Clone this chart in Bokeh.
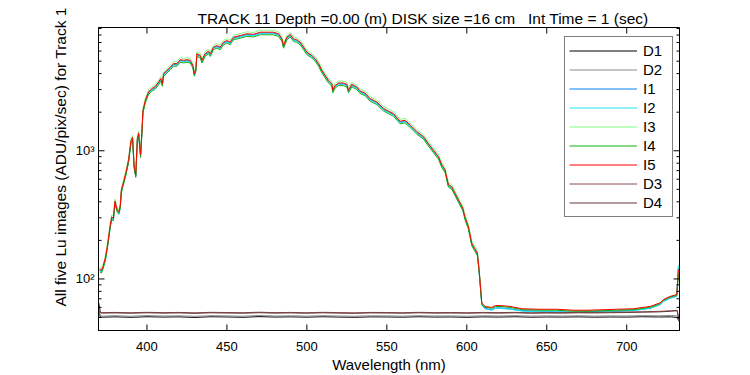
from math import pi
from bokeh.plotting import figure
from bokeh.models import Range1d, FixedTicker, Title
from bokeh.embed import file_html
from bokeh.resources import INLINE

# ---------------- data ----------------
title_text = "TRACK 11 Depth =0.00 (m) DISK size =16 cm\u00a0\u00a0\u00a0Int Time = 1 (sec)"
x_label = "Wavelength (nm)"
y_label = "All five Lu images (ADU/pix/sec) for Track 1"
x_lo, x_hi = 369.7, 733
y_lo, y_hi = 39.6, 9160
x_ticks = [400, 450, 500, 550, 600, 650, 700]
y_ticks = [100, 1000]
y_tick_labels = {100: "10\u00b2", 1000: "10\u00b3"}
y_minor = [50, 60, 70, 80, 90, 200, 300, 400, 500, 600, 700, 800, 900,
           2000, 3000, 4000, 5000, 6000, 7000, 8000, 9000]

wl = [370.5, 371.5, 372.5, 374, 375.5, 377, 378, 379, 380, 381.3, 382.5, 383.3, 384,
      385.4, 387, 388.5, 390, 391, 392, 393, 394, 394.8, 396, 396.9, 397.5, 399, 401,
      403, 405, 407.3, 408.7, 409.6, 410.4, 412.5, 414.6, 416.6, 418.7, 420.8, 422.9,
      425, 427, 428.7, 429.6, 430.6, 431.2, 433.3, 434.4, 436.4, 438.5, 439.6, 441.6,
      443.7, 445.8, 447.9, 450, 452, 454.1, 458.3, 462.5, 466.6, 470.8, 475, 479,
      482.3, 484.4, 485.4, 487.5, 489.6, 491.6, 493.7, 495.8, 497.9, 500, 503.1,
      505.2, 507.3, 509.4, 511.4, 513.5, 515.6, 516.2, 517.7, 519.8, 522.9, 525, 526,
      528.1, 531.2, 533.3, 536.4, 539.6, 543.8, 547.9, 551, 554.2, 558.3, 561.4,
      564.6, 568.8, 572.9, 576, 579.2, 582.3, 584.4, 586.4, 588.5, 590.6, 592.7,
      594.8, 597.5, 599, 601, 603.1, 605.2, 606.6, 607.7, 608.7, 609.4, 611.4, 615.6,
      618, 620.8, 627, 635, 645.8, 656, 666.6, 675.8, 693.7, 704, 714.6, 720.8, 722.9,
      727, 731.3, 732.3]

i5 = [120, 116, 125, 146, 190, 262, 305, 298, 405, 350, 335, 372, 495,
      574, 690, 850, 1200, 1270, 760, 650, 1250, 1380, 930, 1450, 2070, 2480, 2880,
      3060, 3150, 3440, 3660, 3340, 4000, 4240, 4500, 4790, 4790, 5140, 5080,
      5140, 5080, 4650, 4000, 4370, 5720, 5550, 5080, 5720, 5990, 5700, 6440,
      6620, 6440, 7040, 7250, 7040, 7700, 7920, 8190, 8100, 8420, 8420, 8420,
      8190, 7480, 6620, 7700, 8100, 7480, 7350, 7040, 6440, 5890, 5550,
      5230, 4790, 4240, 3880, 3550, 3340, 2970, 3240, 3380, 3380, 3300, 2970,
      3300, 3150, 2930, 2820, 2550, 2400, 2140, 2040, 1950, 1700, 1730,
      1590, 1410, 1290, 1140, 1010, 900, 775, 710, 545, 525, 466,
      414, 357, 300, 257, 190, 171, 159, 118, 83, 65, 61, 60,
      62, 62, 61, 58.5, 58, 58, 57, 57, 58, 58.5, 61, 65, 69,
      73, 75.5, 118]

i1 = [118, 114, 123, 144, 187, 258, 300, 293, 399, 345, 330, 366, 488,
      565, 680, 837, 1182, 1251, 749, 640, 1231, 1359, 916, 1428, 2039, 2443, 2837,
      3014, 3103, 3388, 3605, 3290, 3940, 4176, 4433, 4718, 4718, 5063, 5004,
      5063, 5004, 4580, 3940, 4304, 5634, 5467, 5004, 5634, 5900, 5615, 6343,
      6521, 6343, 6934, 7141, 6934, 7585, 7801, 8067, 7979, 8294, 8294, 8294,
      8067, 7368, 6521, 7585, 7979, 7368, 7240, 6934, 6343, 5802, 5467,
      5152, 4718, 4176, 3822, 3497, 3290, 2925, 3191, 3329, 3329, 3251, 2925,
      3251, 3103, 2886, 2778, 2512, 2364, 2108, 2009, 1921, 1675, 1704,
      1566, 1389, 1271, 1123, 995, 887, 763, 699, 537, 517, 459,
      408, 352, 296, 253, 187, 168, 157, 116, 82, 63, 59, 57.5,
      59.5, 59.5, 58.5, 56.5, 56, 55.5, 55, 55.5, 56, 57, 59, 63, 67,
      71, 73.5, 122]

i2 = [117, 113, 122, 142, 185, 255, 297, 290, 395, 341, 326, 362, 482,
      559, 672, 828, 1169, 1237, 740, 633, 1218, 1344, 906, 1412, 2016, 2415, 2805,
      2980, 3068, 3351, 3565, 3253, 3896, 4130, 4383, 4665, 4665, 5006, 4948,
      5006, 4948, 4529, 3896, 4256, 5571, 5406, 4948, 5571, 5834, 5552, 6273,
      6448, 6273, 6857, 7062, 6857, 7500, 7714, 7977, 7889, 8201, 8201, 8201,
      7977, 7286, 6448, 7500, 7889, 7286, 7159, 6857, 6273, 5737, 5406,
      5094, 4665, 4130, 3779, 3458, 3253, 2893, 3156, 3292, 3292, 3214, 2893,
      3214, 3068, 2854, 2747, 2484, 2338, 2084, 1987, 1899, 1656, 1685,
      1549, 1373, 1256, 1110, 984, 877, 755, 692, 531, 511, 454,
      403, 348, 292, 250, 185, 167, 155, 115, 81, 62, 58.5, 57,
      59, 59, 58, 56, 55.5, 55.5, 55, 55, 56, 56.5, 59, 63, 66.5,
      70.5, 73, 128]

i3 = [124, 120, 129, 151, 197, 271, 316, 309, 420, 362, 347, 385, 512,
      594, 714, 880, 1242, 1315, 787, 673, 1294, 1428, 963, 1501, 2142, 2567, 2981,
      3167, 3260, 3560, 3788, 3457, 4140, 4388, 4658, 4958, 4958, 5320, 5258,
      5320, 5258, 4813, 4140, 4523, 5920, 5744, 5258, 5920, 6200, 5900, 6665,
      6852, 6665, 7286, 7504, 7286, 7970, 8197, 8477, 8384, 8715, 8715, 8715,
      8477, 7742, 6852, 7970, 8384, 7742, 7607, 7286, 6665, 6096, 5744,
      5413, 4958, 4388, 4016, 3674, 3457, 3074, 3353, 3498, 3498, 3416, 3074,
      3416, 3260, 3033, 2919, 2639, 2484, 2215, 2111, 2018, 1760, 1791,
      1646, 1459, 1335, 1180, 1045, 932, 802, 735, 564, 543, 482,
      428, 369, 310, 266, 197, 177, 165, 122, 86, 65, 60.5, 59.5,
      61.5, 61.5, 60.5, 58, 57.5, 57.5, 56.5, 56.5, 57.5, 58, 60.5, 64.5, 68.5,
      72.5, 75, 112]

i4 = [114, 111, 119, 139, 181, 250, 291, 284, 386, 334, 320, 355, 472,
      548, 658, 811, 1145, 1212, 725, 620, 1193, 1317, 887, 1384, 1975, 2366, 2748,
      2920, 3005, 3282, 3492, 3187, 3816, 4045, 4293, 4570, 4570, 4904, 4846,
      4904, 4846, 4436, 3816, 4169, 5457, 5295, 4846, 5457, 5714, 5438, 6144,
      6315, 6144, 6716, 6917, 6716, 7346, 7556, 7813, 7727, 8033, 8033, 8033,
      7813, 7136, 6315, 7346, 7727, 7136, 7012, 6716, 6144, 5619, 5295,
      4989, 4570, 4045, 3702, 3387, 3186, 2833, 3091, 3225, 3225, 3148, 2833,
      3148, 3005, 2795, 2690, 2433, 2290, 2042, 1946, 1860, 1622, 1650,
      1517, 1345, 1231, 1088, 964, 859, 739, 677, 520, 501, 445,
      395, 341, 286, 245, 181, 163, 152, 113, 79, 63, 60, 59,
      61, 61, 60, 57.5, 57, 57, 56, 56, 57, 57.5, 60, 64, 68,
      72, 74.5, 110]

wl_d = [370.0, 370.8, 372.0, 380, 390, 400, 410, 420, 430, 440, 450, 460, 470, 480,
        490, 500, 510, 520, 530, 540, 550, 560, 570, 580, 590, 600, 610, 620, 630,
        640, 650, 660, 670, 680, 690, 700, 710, 720, 728, 731.5, 732.8]
d1 = [56, 50.5, 50.3, 50.6, 50.2, 50.7, 50.4, 50.6, 50.1, 50.7, 50.5, 50.2, 50.8, 50.4,
      50.6, 50.3, 50.7, 50.4, 50.2, 50.6, 50.5, 50.3, 50.7, 50.4, 50.5, 50.2, 50.6, 50.4,
      50.7, 50.3, 50.5, 50.4, 50.6, 50.3, 50.5, 50.4, 50.7, 50.5, 50.6, 50.0, 46.5]
d2 = [57, 51.6, 51.3, 51.7, 51.2, 51.8, 51.4, 51.6, 51.1, 51.7, 51.5, 51.2, 51.9, 51.4,
      51.6, 51.3, 51.7, 51.4, 51.2, 51.6, 51.5, 51.3, 51.7, 51.4, 51.5, 51.2, 51.6, 51.4,
      51.7, 51.3, 51.5, 51.4, 51.6, 51.3, 51.5, 51.4, 51.7, 51.6, 51.9, 51.5, 47]
d3 = [65, 55, 54.6, 54.8, 54.5, 54.9, 54.6, 54.8, 54.4, 54.9, 54.7, 54.5, 55.0, 54.6,
      54.8, 54.5, 54.9, 54.6, 54.4, 54.8, 54.7, 54.5, 54.9, 54.6, 54.7, 54.5, 54.8, 54.6,
      54.9, 54.5, 54.7, 54.6, 54.9, 54.8, 55.0, 55.2, 55.5, 55.8, 56.5, 57, 48]
d4 = [63, 54.4, 54.1, 54.3, 54.0, 54.4, 54.1, 54.3, 53.9, 54.4, 54.2, 54.0, 54.5, 54.1,
      54.3, 54.0, 54.4, 54.1, 53.9, 54.3, 54.2, 54.0, 54.4, 54.1, 54.2, 54.0, 54.3, 54.1,
      54.4, 54.0, 54.2, 54.1, 54.4, 54.3, 54.5, 54.7, 55.0, 55.3, 56.0, 56.5, 47]

# ---------------- figure ----------------
FONT = "Liberation Sans"
p = figure(width=740, height=375, y_axis_type="log",
           x_range=Range1d(x_lo, x_hi), y_range=Range1d(y_lo, y_hi),
           output_backend="svg", toolbar_location=None,
           min_border_left=98, min_border_right=61, min_border_top=27,
           min_border_bottom=44)
p.grid.visible = False
p.outline_line_color = "black"
p.outline_line_width = 1
p.background_fill_color = "white"
p.border_fill_color = "white"

series = [
    ("D1", wl_d, d1, "#000000"),
    ("D2", wl_d, d2, "#8c8c8c"),
    ("I1", wl, i1, "#0080ff"),
    ("I2", wl, i2, "#20e0f0"),
    ("I3", wl, i3, "#80ff80"),
    ("I4", wl, i4, "#10b010"),
    ("I5", wl, i5, "#ff0000"),
    ("D3", wl_d, d3, "#8a4c4c"),
    ("D4", wl_d, d4, "#6a3838"),
]
for name, xs, ys, col in series:
    p.line(xs, ys, line_color=col, line_width=1, legend_label=name)

# inward tick marks on all four frame edges (dash markers centred on the
# frame edge; the half outside the frame is clipped away)
nx, ny, nm = len(x_ticks), len(y_ticks), len(y_minor)
p.scatter(x_ticks, [y_lo] * nx, marker="dash", angle=pi / 2, size=12,
          line_color="black", line_width=1)
p.scatter(x_ticks, [y_hi] * nx, marker="dash", angle=pi / 2, size=12,
          line_color="black", line_width=1)
p.scatter([x_lo] * ny, y_ticks, marker="dash", size=12, line_color="black", line_width=1)
p.scatter([x_hi] * ny, y_ticks, marker="dash", size=12, line_color="black", line_width=1)
p.scatter([x_lo] * nm, y_minor, marker="dash", size=6, line_color="black", line_width=1)
p.scatter([x_hi] * nm, y_minor, marker="dash", size=6, line_color="black", line_width=1)

# axes
xa = p.xaxis[0]
xa.ticker = FixedTicker(ticks=x_ticks)
xa.axis_label = x_label
ya = p.yaxis[0]
ya.ticker = FixedTicker(ticks=y_ticks, minor_ticks=y_minor)
ya.major_label_overrides = y_tick_labels

for ax in [xa, ya]:
    ax.axis_line_color = "black"
    ax.major_tick_line_color = None
    ax.minor_tick_line_color = None
    ax.major_tick_in = 0
    ax.major_tick_out = 0
    ax.minor_tick_in = 0
    ax.minor_tick_out = 0
    ax.major_label_text_font = FONT
    ax.major_label_text_color = "black"
    ax.axis_label_text_font = FONT
    ax.axis_label_text_font_style = "normal"
    ax.axis_label_text_color = "black"
xa.major_label_text_font_size = "13px"
ya.major_label_text_font_size = "13px"
xa.major_label_standoff = 11
ya.major_label_standoff = 4
xa.axis_label_text_font_size = "15px"
xa.axis_label_standoff = 2

# title (left aligned with an offset) and the y label as a left-side title
p.title.text = title_text
p.title.align = "left"
p.title.offset = 99
p.title.standoff = 2
p.title.text_font = FONT
p.title.text_font_size = "15.5px"
p.title.text_font_style = "normal"
p.title.text_color = "black"

ytitle = Title(text=y_label, align="left", offset=24, standoff=7,
               text_font=FONT, text_font_size="15.5px", text_font_style="normal",
               text_color="black")
p.add_layout(ytitle, "left")

# legend
lg = p.legend[0]
lg.location = (466, 113)
lg.margin = 0
lg.padding = 4
lg.spacing = 0
lg.label_height = 19
lg.glyph_height = 19
lg.glyph_width = 68
lg.label_width = 25
lg.label_standoff = 6
lg.label_text_font = FONT
lg.label_text_font_size = "15px"
lg.label_text_color = "black"
lg.border_line_color = "black"
lg.border_line_width = 1
lg.background_fill_color = "white"
lg.background_fill_alpha = 1

open("out.html", "w").write(file_html(p, INLINE))
